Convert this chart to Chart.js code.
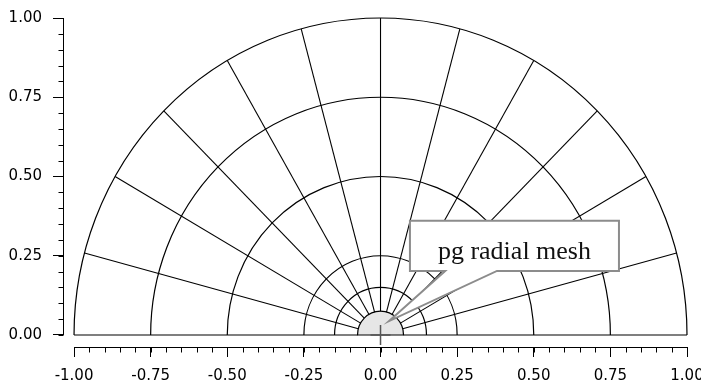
<!DOCTYPE html>
<html>
<head>
<meta charset="utf-8">
<script src="https://cdn.jsdelivr.net/npm/chart.js@4.4.1/dist/chart.umd.min.js"></script>
<style>
  body { margin: 0; background: #fff; }
  canvas { display: block; }
</style>
</head>
<body>
<canvas id="mesh" width="701" height="386"></canvas>
<script>
// mesh definition
var spokeAngles = [0, 15, 30, 45, 60, 75, 90, 105, 120, 135, 150, 165, 180];
var ringRadii = [1.0, 0.75, 0.5, 0.25, 0.15];
var innerRadius = 0.075;
var outerRadius = 1.0;

// axis ticks
var xTicks = [-1.00, -0.75, -0.50, -0.25, 0.00, 0.25, 0.50, 0.75, 1.00];
var yTicks = [0.00, 0.25, 0.50, 0.75, 1.00];
var minorStep = 0.05;

// callout (data coords)
var calloutText = "pg radial mesh";
var calloutBox = [0.096, 0.360, 0.778, 0.202]; // x0, y0, x1, y1
var calloutBase = [0.211, 0.380];            // pointer base x left / right
var calloutTip = [0.028, 0.044];

var spokeSets = [];
for (var i = 0; i < spokeAngles.length; i++) {
  var a = spokeAngles[i] * Math.PI / 180;
  spokeSets.push({
    data: [
      {x: innerRadius * Math.cos(a), y: innerRadius * Math.sin(a)},
      {x: outerRadius * Math.cos(a), y: outerRadius * Math.sin(a)}
    ],
    showLine: true,
    borderColor: '#000',
    borderWidth: 1.1,
    pointRadius: 0,
    fill: false
  });
}
spokeSets.push({
  data: [{x: 0, y: 0}],
  pointStyle: 'cross',
  pointRadius: 10,
  borderColor: '#555',
  borderWidth: 1.5,
  showLine: false
});

var meshPlugin = {
  id: 'meshPlugin',
  beforeDatasetsDraw: function(chart) {
    var ctx = chart.ctx;
    var xs = chart.scales.x, ys = chart.scales.y;
    var cx = xs.getPixelForValue(0), cy = ys.getPixelForValue(0);
    ctx.save();
    ctx.strokeStyle = '#000';
    ctx.lineWidth = 1.2;
    ringRadii.forEach(function(r) {
      var rx = xs.getPixelForValue(r) - cx;
      var ry = cy - ys.getPixelForValue(r);
      ctx.beginPath();
      ctx.ellipse(cx, cy, rx, ry, 0, Math.PI, 2 * Math.PI);
      ctx.stroke();
    });
    var irx = xs.getPixelForValue(innerRadius) - cx;
    var iry = cy - ys.getPixelForValue(innerRadius);
    ctx.beginPath();
    ctx.ellipse(cx, cy, irx, iry, 0, Math.PI, 2 * Math.PI);
    ctx.closePath();
    ctx.fillStyle = '#e6e6e6';
    ctx.fill();
    ctx.stroke();
    ctx.restore();
  },
  afterDraw: function(chart) {
    var ctx = chart.ctx;
    var xs = chart.scales.x, ys = chart.scales.y;
    var area = chart.chartArea;
    ctx.save();
    ctx.strokeStyle = '#000';
    ctx.lineWidth = 1;
    // axis lines only over the data range
    var lx = Math.round(area.left) + 0.5;
    ctx.beginPath();
    ctx.moveTo(lx, ys.getPixelForValue(yTicks[0]));
    ctx.lineTo(lx, ys.getPixelForValue(yTicks[yTicks.length - 1]));
    var by = Math.round(area.bottom) + 0.5;
    ctx.moveTo(xs.getPixelForValue(xTicks[0]), by);
    ctx.lineTo(xs.getPixelForValue(xTicks[xTicks.length - 1]), by);
    ctx.stroke();
    // minor ticks
    ctx.beginPath();
    for (var v = yTicks[0]; v < yTicks[yTicks.length - 1]; v += minorStep) {
      var py = Math.round(ys.getPixelForValue(v)) + 0.5;
      ctx.moveTo(lx - 5, py);
      ctx.lineTo(lx, py);
    }
    for (var u = xTicks[0]; u < xTicks[xTicks.length - 1]; u += minorStep) {
      var px = Math.round(xs.getPixelForValue(u)) + 0.5;
      ctx.moveTo(px, by);
      ctx.lineTo(px, by + 5);
    }
    ctx.stroke();

    // callout
    var x0 = xs.getPixelForValue(calloutBox[0]), y0 = ys.getPixelForValue(calloutBox[1]);
    var x1 = xs.getPixelForValue(calloutBox[2]), y1 = ys.getPixelForValue(calloutBox[3]);
    var bl = xs.getPixelForValue(calloutBase[0]), br = xs.getPixelForValue(calloutBase[1]);
    var tx = xs.getPixelForValue(calloutTip[0]), ty = ys.getPixelForValue(calloutTip[1]);
    ctx.beginPath();
    ctx.moveTo(x0, y0);
    ctx.lineTo(x1, y0);
    ctx.lineTo(x1, y1);
    ctx.lineTo(br, y1);
    ctx.lineTo(tx, ty);
    ctx.lineTo(bl, y1);
    ctx.lineTo(x0, y1);
    ctx.closePath();
    ctx.fillStyle = '#fff';
    ctx.fill();
    ctx.strokeStyle = '#8c8c8c';
    ctx.lineWidth = 2;
    ctx.lineJoin = 'miter';
    ctx.stroke();
    ctx.fillStyle = '#111';
    ctx.font = '26px "Liberation Serif"';
    ctx.textAlign = 'center';
    ctx.textBaseline = 'alphabetic';
    ctx.fillText(calloutText, (x0 + x1) / 2, y1 - 12);
    ctx.restore();
  }
};

var tickFont = {family: 'DejaVu Sans', size: 15};

var chart = new Chart(document.getElementById('mesh'), {
  type: 'scatter',
  data: { datasets: spokeSets },
  plugins: [meshPlugin],
  options: {
    responsive: false,
    animation: false,
    events: [],
    layout: { autoPadding: false, padding: {top: 18, right: 14, left: 0, bottom: 0} },
    plugins: { legend: {display: false}, tooltip: {enabled: false} },
    scales: {
      x: {
        type: 'linear',
        min: -1.036,
        max: 1.0,
        afterFit: function(s) { s.height = 39; s.paddingLeft = 0; s.paddingRight = 0; },
        afterBuildTicks: function(s) { s.ticks = xTicks.map(function(v) { return {value: v}; }); },
        ticks: {
          font: tickFont, color: '#000', padding: 10, maxRotation: 0, autoSkip: false,
          callback: function(v) { return Number(v).toFixed(2); }
        },
        grid: { display: true, drawOnChartArea: false, drawTicks: true, tickLength: 10, color: '#000' },
        border: { display: false }
      },
      y: {
        type: 'linear',
        min: -0.0379,
        max: 1.0,
        afterFit: function(s) { s.width = 63; s.paddingTop = 0; s.paddingBottom = 0; },
        afterBuildTicks: function(s) { s.ticks = yTicks.map(function(v) { return {value: v}; }); },
        ticks: {
          font: tickFont, color: '#000', padding: 11, autoSkip: false,
          callback: function(v) { return Number(v).toFixed(2); }
        },
        grid: { display: true, drawOnChartArea: false, drawTicks: true, tickLength: 10, color: '#000' },
        border: { display: false }
      }
    }
  }
});
</script>
</body>
</html>
